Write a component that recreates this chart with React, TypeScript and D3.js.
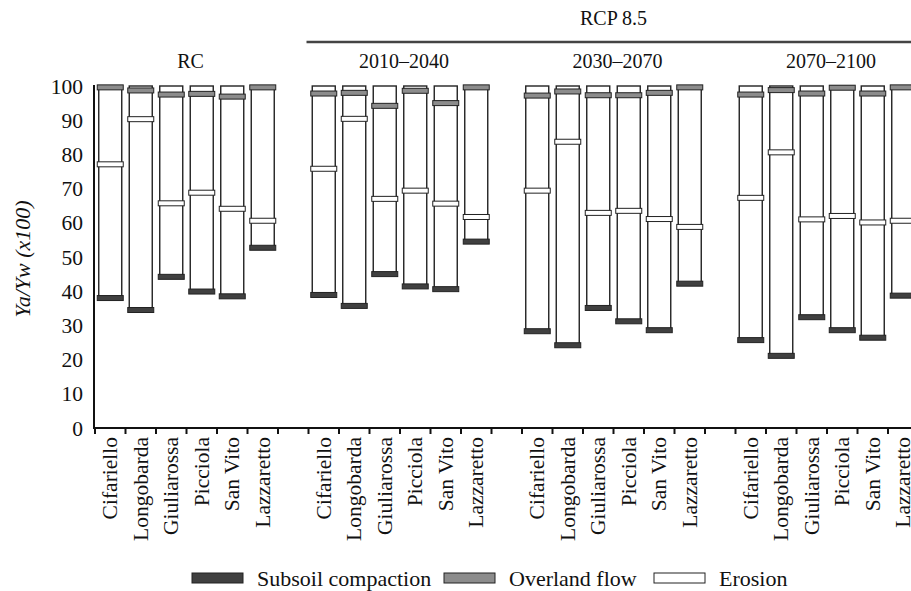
import React from "react";
import * as d3 from "d3";

const sites = ["Cifariello", "Longobarda", "Giuliarossa", "Picciola", "San Vito", "Lazzaretto"];
const periods = ["RC", "2010–2040", "2030–2070", "2070–2100"];
const scenarioLabel = "RCP 8.5";

// Ya/Yw (x100) when each limiting factor is applied
const subsoilCompaction = [
  [38, 34.5, 44.2, 39.9, 38.5, 52.7],
  [38.9, 35.7, 45, 41.4, 40.6, 54.5],
  [28.3, 24.2, 35.1, 31.2, 28.6, 42.2],
  [25.7, 21.1, 32.4, 28.6, 26.4, 38.7],
];
const erosion = [
  [77.1, 90.3, 65.7, 68.8, 64.1, 60.6],
  [75.8, 90.4, 67, 69.4, 65.6, 61.7],
  [69.4, 83.7, 62.9, 63.5, 61.1, 58.8],
  [67.3, 80.6, 61, 62, 60.1, 60.6],
];
const overlandFlow = [
  [99.6, 98.7, 97.5, 97.7, 96.9, 99.6],
  [97.8, 98, 94.2, 98.6, 95, 99.6],
  [97.2, 98.4, 97.3, 97.3, 98, 99.6],
  [97.5, 98.8, 97.8, 99.5, 97.8, 99.6],
];
const potential = 100;
const yTicks = [0, 10, 20, 30, 40, 50, 60, 70, 80, 90, 100];

const legendItems = [
  { name: "Subsoil compaction", fill: "#404040" },
  { name: "Overland flow", fill: "#8c8c8c" },
  { name: "Erosion", fill: "#ffffff" },
];
const legendX = [192, 444, 654];

const W = 911;
const H = 591;
const font = "'Liberation Serif', 'Times New Roman', serif";

// slots: 6 sites per period, an empty slot between periods
const slots: string[] = [];
periods.forEach((p, i) => {
  if (i > 0) slots.push("gap" + i);
  sites.forEach((s) => slots.push(p + "|" + s));
});

const App = () => {
  const x = d3.scaleBand().domain(slots).range([95, 95 + slots.length * 30.5]);
  const y = d3.scaleLinear().domain([0, 100]).range([428, 86]);
  const bw = 23;
  const mw = 26;
  const mh = 5;

  const bars = [];
  periods.forEach((p, pi) => {
    sites.forEach((s, si) => {
      bars.push({
        key: p + "|" + s,
        low: subsoilCompaction[pi][si],
        ero: erosion[pi][si],
        ov: overlandFlow[pi][si],
      });
    });
  });

  const groupCenter = (p: string) => {
    const first = x(p + "|" + sites[0])!;
    const last = x(p + "|" + sites[sites.length - 1])! + x.bandwidth();
    return (first + last) / 2;
  };

  const rcpStart = x(periods[1] + "|" + sites[0])!;
  const rcpEnd = x.range()[1];

  const marker = (cx: number, v: number, fill: string, k: string) => (
    <rect key={k} x={cx - mw / 2} y={y(v) - mh / 2} width={mw} height={mh}
      fill={fill} stroke="#222" strokeWidth={1} />
  );

  return (
    <svg width={W} height={H} style={{ display: "block", position: "absolute", left: 0, top: 0 }}
      fontFamily={font} fill="#111">
      <rect width={W} height={H} fill="#fff" />

      {/* scenario header */}
      <text x={(rcpStart + rcpEnd) / 2} y={25} textAnchor="middle" fontSize={20}>{scenarioLabel}</text>
      <line x1={rcpStart - 2} x2={rcpEnd} y1={42} y2={42} stroke="#444" strokeWidth={2.5} />
      {periods.map((p) => (
        <text key={p} x={groupCenter(p) + 4} y={68} textAnchor="middle" fontSize={20}>{p}</text>
      ))}

      {/* y axis */}
      <line x1={94} x2={94} y1={y(100) - 1} y2={y(0) + 1} stroke="#111" strokeWidth={2} />
      {yTicks.map((t) => (
        <text key={t} x={83} y={y(t)} dy="0.35em" textAnchor="end" fontSize={21.5}>{t}</text>
      ))}
      <text transform={`translate(30,${(y(0) + y(100)) / 2 + 2}) rotate(-90)`} textAnchor="middle"
        fontSize={22} fontStyle="italic">Ya/Yw (x100)</text>

      {/* x axis */}
      <line x1={93} x2={W} y1={y(0)} y2={y(0)} stroke="#111" strokeWidth={2} />
      {slots.map((s) => (
        <line key={"t" + s} x1={x(s)} x2={x(s)} y1={y(0)} y2={y(0) + 6} stroke="#111" strokeWidth={2} />
      ))}
      {bars.map((b) => {
        const cx = x(b.key)! + x.bandwidth() / 2;
        return (
          <text key={"l" + b.key} transform={`translate(${cx + 7},437) rotate(-90)`} textAnchor="end"
            fontSize={21.5}>{b.key.split("|")[1]}</text>
        );
      })}

      {/* bars */}
      {bars.map((b) => {
        const cx = x(b.key)! + x.bandwidth() / 2;
        return (
          <g key={b.key}>
            <rect x={cx - bw / 2} y={y(potential)} width={bw} height={y(b.low) - y(potential)}
              fill="#fff" stroke="#222" strokeWidth={1.4} />
            {marker(cx, b.ero, "#ffffff", "e")}
            {marker(cx, b.ov, "#8c8c8c", "o")}
            {marker(cx, b.low, "#404040", "s")}
          </g>
        );
      })}

      {/* legend */}
      {legendItems.map((d, i) => (
        <g key={d.name} transform={`translate(${legendX[i]},578)`}>
          <rect x={0} y={-5} width={51} height={10} fill={d.fill} stroke="#222" strokeWidth={1} />
          <text x={65} y={0} dy="0.35em" fontSize={22}>{d.name}</text>
        </g>
      ))}
    </svg>
  );
};

export default App;
